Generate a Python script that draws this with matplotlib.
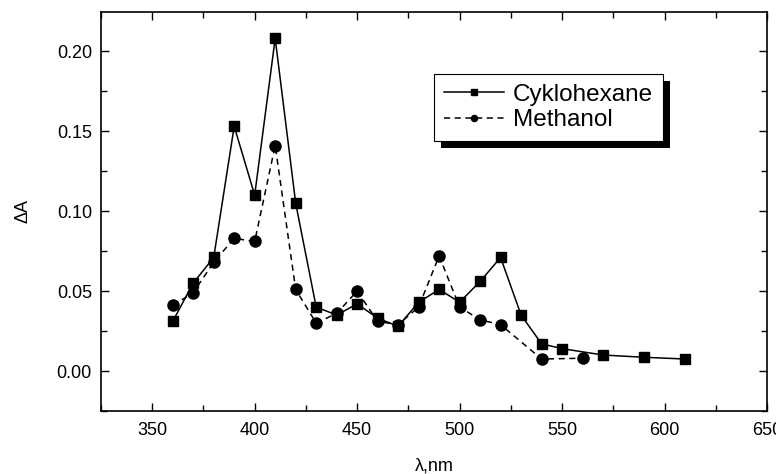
import matplotlib.pyplot as plt
import matplotlib.patheffects as pe
from matplotlib.ticker import MultipleLocator

plt.rcParams['font.family'] = ['Liberation Sans', 'DejaVu Sans']

# Cyklohexane (squares, solid)
wl_cyk = [360, 370, 380, 390, 400, 410, 420, 430, 440, 450, 460, 470, 480,
          490, 500, 510, 520, 530, 540, 550, 570, 590, 610]
dA_cyk = [0.031, 0.055, 0.071, 0.153, 0.110, 0.208, 0.105, 0.040, 0.035, 0.042,
          0.033, 0.028, 0.043, 0.051, 0.043, 0.056, 0.071, 0.035, 0.017, 0.014,
          0.010, 0.0086, 0.0075]

# Methanol (circles, dashed)
wl_met = [360, 370, 380, 390, 400, 410, 420, 430, 440, 450, 460, 470, 480,
          490, 500, 510, 520, 540, 560]
dA_met = [0.041, 0.049, 0.068, 0.083, 0.081, 0.141, 0.051, 0.030, 0.036, 0.050,
          0.031, 0.029, 0.040, 0.072, 0.040, 0.032, 0.029, 0.0075, 0.008]

fig = plt.figure(figsize=(7.76, 4.74), dpi=100)
ax = fig.add_axes([101 / 776, 1 - 411 / 474, 666 / 776, 399 / 474])

ax.plot(wl_cyk, dA_cyk, '-', color='black', lw=1.1, marker='s', ms=7,
        label='Cyklohexane')
ax.plot(wl_met, dA_met, '--', color='black', lw=1.1, marker='o', ms=8,
        dashes=(4, 3), label='Methanol')

ax.set_xlim(325, 650)
ax.set_ylim(-0.025, 0.2245)
ax.xaxis.set_major_locator(MultipleLocator(50))
ax.xaxis.set_minor_locator(MultipleLocator(25))
ax.yaxis.set_major_locator(MultipleLocator(0.05))
ax.yaxis.set_minor_locator(MultipleLocator(0.025))
ax.yaxis.set_major_formatter(plt.FormatStrFormatter('%.2f'))
ax.tick_params(which='both', direction='in', top=True, right=True, labelsize=13)
ax.tick_params(axis='x', which='major', pad=8)
ax.tick_params(axis='y', which='major', pad=6.5)
ax.tick_params(which='major', length=6, width=1)
ax.tick_params(which='minor', length=4, width=1)
for s in ax.spines.values():
    s.set_linewidth(1.2)

ax.set_xlabel('λ,nm', fontsize=13, labelpad=13)
ax.set_ylabel('ΔA', fontsize=13, labelpad=18)

leg = ax.legend(loc='upper left', bbox_to_anchor=((434 - 101) / 666, (411 - 74) / 399),
                fontsize=17.5, markerscale=0.55, handlelength=2.5, fancybox=False,
                edgecolor='black', framealpha=1, borderpad=0.4, labelspacing=0.15,
                handletextpad=0.35, borderaxespad=0)
leg.get_frame().set_linewidth(0.8)
leg.get_frame().set_path_effects([
    pe.SimplePatchShadow(offset=(5, -5), shadow_rgbFace='black', alpha=1),
    pe.Normal()])

fig.savefig('out.png', dpi=100)
